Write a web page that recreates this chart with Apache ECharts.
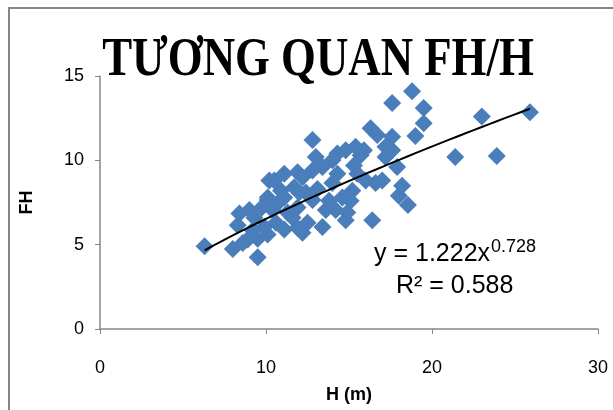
<!DOCTYPE html>
<html><head><meta charset="utf-8">
<script src="https://cdn.jsdelivr.net/npm/echarts@6/dist/echarts.min.js"></script>
<style>html,body{margin:0;padding:0;background:#fff}#c{width:613px;height:410px}</style>
</head><body><div id="c"></div>
<script>
const H = [6.3,8.0,9.5,8.4,8.3,8.9,8.6,9.5,9.2,9.75,10.1,9.9,9.3,9.0,10.2,10.5,11.1,11.9,12.8,13.4,14.0,14.3,14.8,14.3,14.0,14.6,14.2,14.8,12.5,12.2,13.4,13.6,12.8,11.9,11.6,11.1,10.7,10.4,10.1,11.7,12.2,12.8,11.1,11.9,10.1,10.6,11.3,12.4,13.1,13.8,15.3,15.7,15.4,15.5,16.0,16.6,17.0,17.9,17.2,17.6,17.2,17.6,16.7,16.3,15.1,15.2,14.9,16.4,18.2,18.0,18.55,17.6,18.8,19.5,19.5,19.0,23.0,25.9,21.4,23.9,13.0,12.0,10.9,15.9];
const FH = [4.9,4.75,4.25,6.85,6.15,5.3,5.1,5.35,5.85,7.2,7.65,6.05,6.6,7.05,8.8,8.8,9.2,9.3,9.4,9.6,10.0,10.4,10.6,9.2,8.65,7.8,7.05,6.45,6.3,5.7,6.05,7.05,7.65,7.2,6.6,7.8,7.45,7.05,7.8,8.4,9.0,11.2,5.9,6.0,5.6,6.3,6.9,8.1,8.3,7.6,9.7,10.3,10.8,9.2,8.8,8.65,8.8,9.6,10.2,10.6,10.8,11.4,11.5,11.9,7.6,8.2,6.9,6.45,8.5,7.9,7.35,13.4,14.1,13.1,12.2,11.45,12.6,12.85,10.2,10.25,10.2,8.1,8.2,10.6];
const trendA = 1.222, trendB = 0.728;
const xTicks = [0,10,20,30];
const yTicks = [0,5,10,15];

const pts = H.map((h,i)=>[h,FH[i]]);
const xmin = Math.min(...H), xmax = Math.max(...H);
const trend = [];
for (let k=0;k<=40;k++){ const x = xmin+(xmax-xmin)*k/40; trend.push([x, trendA*Math.pow(x,trendB)]); }

const chart = echarts.init(document.getElementById('c'));
const lbl = {fontFamily:'Liberation Sans', fontSize:18, color:'#000'};
chart.setOption({
  animation:false,
  graphic:[
    {type:'rect', shape:{x:9,y:8,width:620,height:420}, style:{fill:'none', stroke:'#868686', lineWidth:2}, z:0},
    {type:'text', x:318, y:34, scaleX:0.83, style:{text:'TƯƠNG QUAN FH/H', font:'bold 54px "Liberation Serif"', fill:'#000', textAlign:'center'}},
    {type:'text', x:374, y:238, style:{rich:{a:{fontFamily:'Liberation Sans',fontSize:25,color:'#000'},s:{fontFamily:'Liberation Sans',fontSize:18,color:'#000',verticalAlign:'top',padding:[0,0,14,1]}}, text:'{a|y = 1.222x}{s|0.728}'}},
    {type:'text', x:396, y:274, style:{text:'R² = 0.588', font:'25px "Liberation Sans"', fill:'#000'}}
  ],
  grid:{left:100,right:15,top:76,bottom:81,outerBoundsMode:'none',containLabel:false},
  xAxis:{type:'value',min:0,max:30,interval:10,
    name:'H (m)',nameLocation:'middle',nameGap:57,nameTextStyle:{fontFamily:'Liberation Sans',fontWeight:'bold',fontSize:18,color:'#000'},
    axisLine:{lineStyle:{color:'#868686',width:1.5}},axisTick:{show:true,length:5,lineStyle:{color:'#868686'}},
    axisLabel:Object.assign({margin:30},lbl),splitLine:{show:false}},
  yAxis:{type:'value',min:0,max:15,interval:5,
    name:'FH',nameLocation:'middle',nameGap:64,nameRotate:90,nameTextStyle:{fontFamily:'Liberation Sans',fontWeight:'bold',fontSize:18,color:'#000'},
    axisLine:{show:true,lineStyle:{color:'#868686',width:1.5}},axisTick:{show:true,length:5,lineStyle:{color:'#868686'}},
    axisLabel:Object.assign({margin:16},lbl),splitLine:{show:false}},
  series:[
    {type:'scatter',data:pts,symbol:'diamond',symbolSize:18,itemStyle:{color:'#4a7ebb',opacity:1},z:2},
    {type:'line',data:trend,showSymbol:false,smooth:false,lineStyle:{color:'#000',width:2},z:3}
  ]
});
</script></body></html>
